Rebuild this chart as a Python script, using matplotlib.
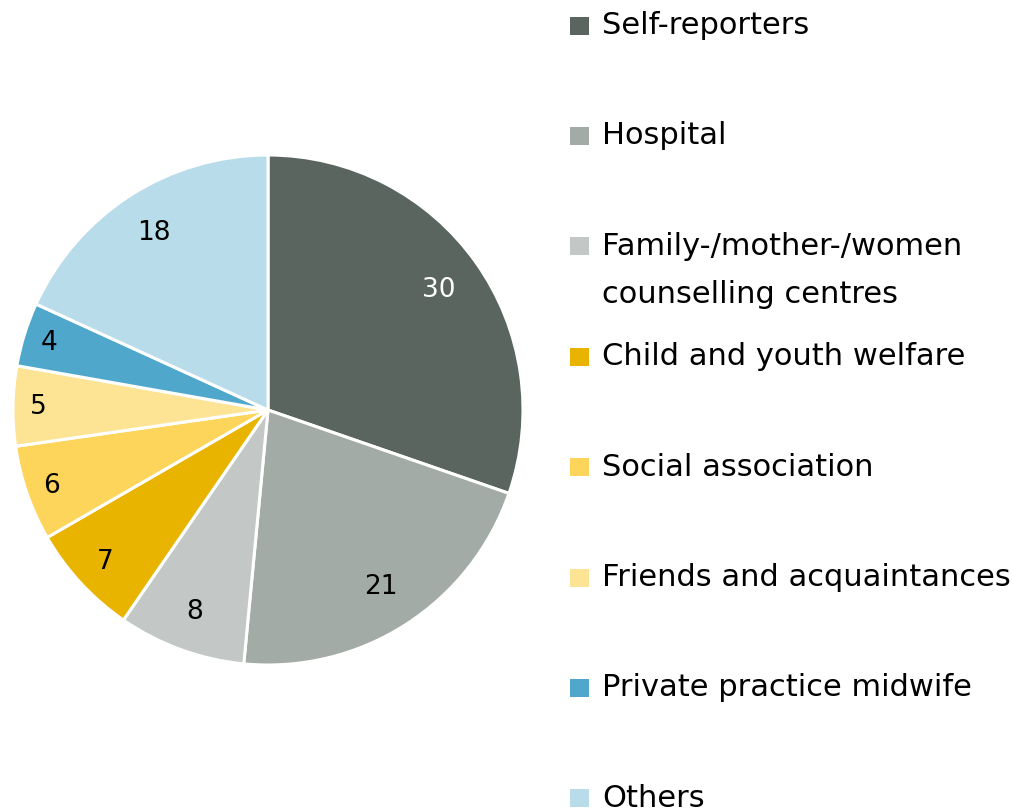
import matplotlib
matplotlib.use("Agg")
import matplotlib.pyplot as plt
import numpy as np

categories = ["Self-reporters", "Hospital", "Family-/mother-/women\ncounselling centres",
              "Child and youth welfare", "Social association", "Friends and acquaintances",
              "Private practice midwife", "Others"]
values = [30, 21, 8, 7, 6, 5, 4, 18]
colors = ["#5a6560", "#a3aba6", "#c3c8c6", "#e8b400", "#fdd55a", "#fde495", "#4fa8cb", "#b8dcea"]
label_colors = ["white", "black", "black", "black", "black", "black", "black", "black"]
label_dist = [0.82, 0.82, 0.84, 0.87, 0.9, 0.9, 0.9, 0.83]

plt.rcParams['font.family'] = ['DejaVu Sans']

W, H = 1013, 812
fig = plt.figure(figsize=(W / 100, H / 100), dpi=100)
cx, cy, r = 268, 411, 255
ax = fig.add_axes([(cx - r) / W, 1 - (cy + r) / H, 2 * r / W, 2 * r / H])
wedges, _ = ax.pie(values, colors=colors, startangle=90, counterclock=False,
                   radius=1, wedgeprops=dict(edgecolor="white", linewidth=2.2))
ax.set_xlim(-1, 1)
ax.set_ylim(-1, 1)
ax.set_aspect("equal")
ax.axis("off")

for w, v, c, d in zip(wedges, values, label_colors, label_dist):
    ang = np.deg2rad((w.theta1 + w.theta2) / 2)
    ax.text(d * np.cos(ang), d * np.sin(ang), str(v), ha="center", va="center",
            fontsize=19, color=c)

for i, (cat, col) in enumerate(zip(categories, colors)):
    base = 34 + 110.4 * i
    fig.patches.append(plt.Rectangle((570 / W, 1 - (base + 1.5) / H), 19 / W, 18 / H,
                                     transform=fig.transFigure, facecolor=col, edgecolor="none"))
    for j, ln in enumerate(cat.split("\n")):
        fig.text(602 / W, 1 - (base + j * 48) / H, ln, ha="left", va="baseline", fontsize=22)

fig.savefig("out.png", dpi=100)
